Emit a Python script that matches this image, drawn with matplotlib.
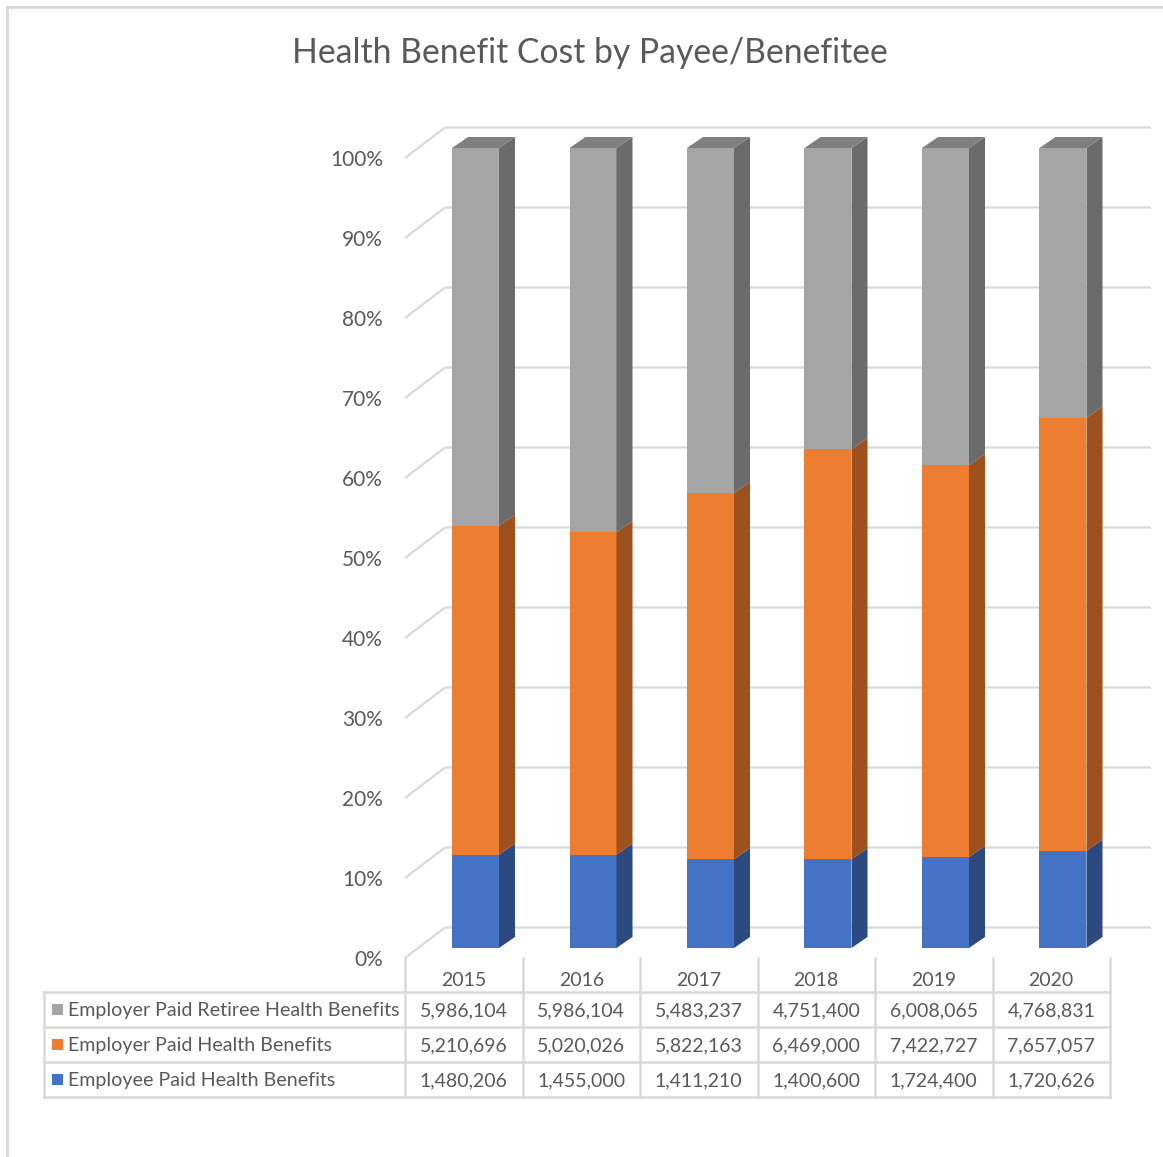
import matplotlib
matplotlib.use("Agg")
import matplotlib.pyplot as plt
from matplotlib.patches import Polygon, Rectangle
from matplotlib.lines import Line2D
import numpy as np

# ---------------- data ----------------
years = ["2015", "2016", "2017", "2018", "2019", "2020"]
series_names = ["Employer Paid Retiree Health Benefits",
                "Employer Paid Health Benefits",
                "Employee Paid Health Benefits"]
retiree = [5986104, 5986104, 5483237, 4751400, 6008065, 4768831]
employer = [5210696, 5020026, 5822163, 6469000, 7422727, 7657057]
employee = [1480206, 1455000, 1411210, 1400600, 1724400, 1720626]
ytick_labels = ["0%", "10%", "20%", "30%", "40%", "50%", "60%", "70%", "80%", "90%", "100%"]

# ---------------- styling ----------------
FONT = "Lato"
TXT = "#595959"
GRID = "#d9d9d9"
front_cols = {"employee": "#4472C4", "employer": "#ED7D31", "retiree": "#A5A5A5"}
side_cols = {"employee": "#2D4A80", "employer": "#9C511E", "retiree": "#6B6B6B"}
top_col = "#7F7F7F"

W, H = 1163, 1157
fig = plt.figure(figsize=(W / 100, H / 100), dpi=100)
ax = fig.add_axes([0, 0, 1, 1])
ax.set_axis_off()

CAT_PX = 117.5
PCT_PX = 8.0
X0_PX = 405.0
Y0_PX = 958.0
ax.set_xlim(-0.5 - X0_PX / CAT_PX, -0.5 + (W - X0_PX) / CAT_PX)
ax.set_ylim(-(H - Y0_PX) / PCT_PX, Y0_PX / PCT_PX)


def fx(px):
    return px / W


def fy(py):
    return 1 - py / H


# ---- chart border (left and top) ----
fig.add_artist(Line2D([fx(7), fx(7)], [fy(7), fy(H)], color=GRID, lw=2))
fig.add_artist(Line2D([fx(7), fx(W)], [fy(7), fy(7)], color=GRID, lw=2))

# ---- walls / gridlines ----
wall_dx = 40 / CAT_PX
wall_dy = 30.5 / PCT_PX
wall_right = -0.5 + (1151 - X0_PX) / CAT_PX
left = -0.5
for k in range(0, 101, 10):
    ax.plot([left, left + wall_dx, wall_right], [k, k + wall_dy, k + wall_dy],
            color=GRID, lw=1.6, zorder=1, solid_capstyle="butt")
    ax.text(left - 22 / CAT_PX, k - 2 / PCT_PX, ytick_labels[k // 10], ha="right", va="center",
            fontsize=15, color=TXT, family=FONT)

# ---- bars ----
totals = [a + b + c for a, b, c in zip(retiree, employer, employee)]
bar_off = 0.1
bw = 47 / CAT_PX
bdx = 16 / CAT_PX
bdy = 11 / PCT_PX
lift = 1.25
for i in range(len(years)):
    segs = [("employee", employee[i]), ("employer", employer[i]), ("retiree", retiree[i])]
    bottom = 0.0
    x0 = i + bar_off - bw / 2
    x1 = x0 + bw
    for key, v in segs:
        h = 100.0 * v / totals[i]
        b = bottom + lift
        t = bottom + h + lift
        ax.add_patch(Rectangle((x0, b), bw, h, facecolor=front_cols[key],
                               edgecolor="none", zorder=3))
        ax.add_patch(Polygon([(x1, b), (x1 + bdx, b + bdy), (x1 + bdx, t + bdy), (x1, t)],
                             closed=True, facecolor=side_cols[key], edgecolor="none", zorder=3))
        bottom += h
    t = bottom + lift
    ax.add_patch(Polygon([(x0, t), (x1, t), (x1 + bdx, t + bdy), (x0 + bdx, t + bdy)],
                         closed=True, facecolor=top_col, edgecolor="none", zorder=3))

# ---- data table ----
row_edges = [958, 992, 1027, 1062, 1097]
col_edges = [X0_PX + CAT_PX * j for j in range(len(years) + 1)]
legend_left = 44
lw_t = 1.8
for r, yy in enumerate(row_edges):
    if r == 0:
        continue
    fig.add_artist(Line2D([fx(legend_left), fx(col_edges[-1])], [fy(yy), fy(yy)],
                          color=GRID, lw=lw_t))
for xx in col_edges:
    fig.add_artist(Line2D([fx(xx), fx(xx)], [fy(row_edges[0]), fy(row_edges[-1])],
                          color=GRID, lw=lw_t))
fig.add_artist(Line2D([fx(legend_left), fx(legend_left)], [fy(row_edges[1]), fy(row_edges[-1])],
                      color=GRID, lw=lw_t))

for j, yr in enumerate(years):
    cx = (col_edges[j] + col_edges[j + 1]) / 2
    fig.text(fx(cx), fy(981), yr, ha="center", va="center", fontsize=14, color=TXT, family=FONT)

rows = [("retiree", series_names[0], retiree),
        ("employer", series_names[1], employer),
        ("employee", series_names[2], employee)]
for r, (key, name, vals) in enumerate(rows):
    cy = (row_edges[r + 1] + row_edges[r + 2]) / 2
    fig.add_artist(Rectangle((fx(52), fy(cy + 5.5)), 11 / W, 11 / H,
                             facecolor=front_cols[key], edgecolor="none"))
    fig.text(fx(68), fy(cy + 1), name, ha="left", va="center", fontsize=14.1, color=TXT, family=FONT)
    for j, v in enumerate(vals):
        cx = (col_edges[j] + col_edges[j + 1]) / 2
        fig.text(fx(cx), fy(cy + 1), f"{v:,}", ha="center", va="center", fontsize=14,
                 color=TXT, family=FONT)

# ---- title ----
fig.text(fx(590), fy(53), "Health Benefit Cost by Payee/Benefitee", ha="center", va="center",
         fontsize=24.3, color=TXT, family=FONT)

fig.savefig("out.png", dpi=100, facecolor="white")
